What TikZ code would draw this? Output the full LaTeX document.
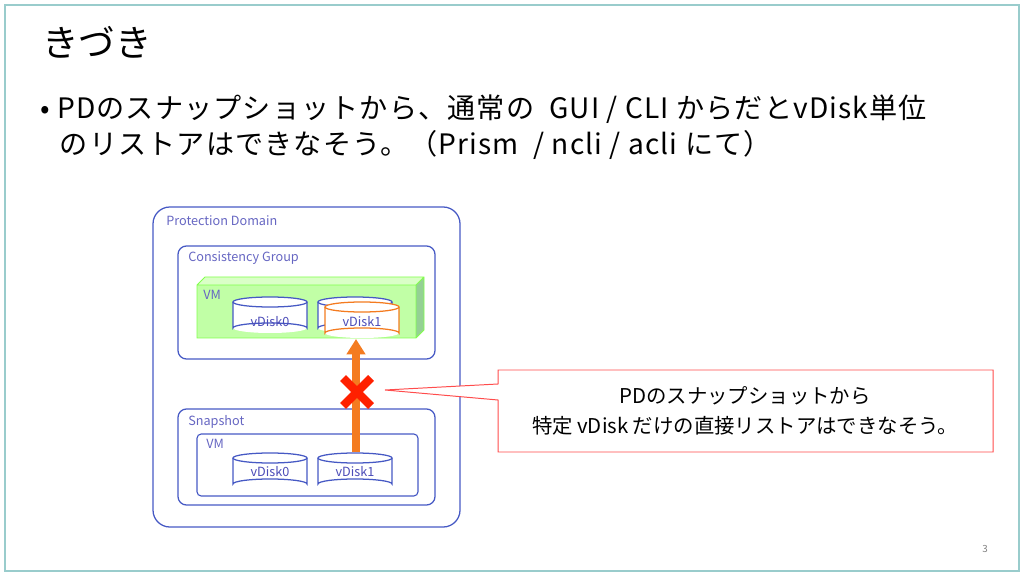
\documentclass[tikz,border=0pt]{standalone}
\usetikzlibrary{arrows.meta}
\usepackage{fontspec}
\setmainfont{Noto Sans CJK JP}
\begin{document}
\begin{tikzpicture}[x=0.025cm,y=-0.025cm,
 bx/.style={draw=blue!55!black!70!white,line width=0.9pt,rounded corners=6pt},
 lbl/.style={anchor=north west,inner sep=0pt,text=blue!60!black!60!white,font=\fontsize{9}{10}\selectfont},
 dlbl/.style={inner sep=0pt,text=blue!60!black!70!white,font=\fontsize{9}{10}\selectfont}]
\definecolor{bl}{HTML}{4659C4}
\definecolor{og}{HTML}{F47B20}
\useasboundingbox (0,0) rectangle (1024,576);
\draw[draw=teal!40,line width=0.8pt] (5,5) rectangle (1019,571);
\node[anchor=west,inner sep=0pt,font=\fontsize{26}{30}\selectfont] (title) at (42,42) {きづき};
\node[anchor=north west,inner sep=0pt,font=\fontsize{20}{25}\selectfont\addfontfeatures{LetterSpace=4},align=left] (body) at (40,95) {• PDのスナップショットから、通常の\ \ GUI / CLI からだとvDisk単位\\\hspace{0.7em}のリストアはできなそう。（Prism\ \ / ncli / acli にて）};
\node[anchor=east,inner sep=0pt,font=\fontsize{7}{8}\selectfont,text=gray] (pg) at (988,549) {3};
\draw[bx,draw=bl,rounded corners=12pt] (153,207) rectangle (460,527);
\node[lbl] (pd) at (166,215) {Protection Domain};
\draw[bx,draw=bl] (178,246) rectangle (435,359);
\node[lbl] (cg) at (188,251) {Consistency Group};
\draw[bx,draw=bl] (178,409) rectangle (435,505);
\node[lbl] (sn) at (188,415) {Snapshot};
\draw[draw=bl,line width=0.8pt,rounded corners=3pt] (197,434) rectangle (418,496);
\node[lbl] (vm2) at (206,439) {VM};
\fill[green!60!lime!35] (197,285) rectangle (416,338);
\fill[green!55!lime!22] (197,285) -- (205,277) -- (424,277) -- (416,285) -- cycle;
\fill[green!40!gray!60] (416,285) -- (424,277) -- (424,330) -- (416,338) -- cycle;
\draw[green!60!lime!70,line width=0.6pt] (197,285) rectangle (416,338) (197,285) -- (205,277) -- (424,277) -- (424,330) -- (416,338) (416,285)--(424,277);
\node[lbl] (vm1) at (203,290) {VM};
\newcommand{\cyl}[5]{%
 \fill[white] (#1,#2) rectangle ++(#3,#4);
 \fill[white] (#1+#3/2,#2+#4) ellipse ({#3/2} and 5);
 \draw[#5,line width=0.9pt] (#1,#2) -- ++(0,#4) arc[start angle=180,end angle=360,x radius=#3/2,y radius=5] -- ++(0,-#4);
 \draw[#5,line width=0.9pt,fill=white] (#1+#3/2,#2) ellipse ({#3/2} and 5);}
\cyl{233}{302}{74}{26}{bl}
\cyl{318}{302}{74}{26}{bl}
\cyl{325}{307}{74}{26}{og}
\node[dlbl] (c0) at (270,322) {vDisk0};
\node[dlbl] (c1) at (362,322) {vDisk1};
\cyl{233}{458}{74}{26}{bl}
\cyl{318}{458}{74}{26}{bl}
\node[dlbl] (s0) at (270,472) {vDisk0};
\node[dlbl] (s1) at (355,472) {vDisk1};
\coordinate (src) at (356,452);
\coordinate (dst) at (356,339);
\draw[og,line width=5pt,-{Triangle[width=13pt,length=11pt]}] (src) -- (dst);
\draw[red!75!orange,line width=6pt] (343,378) -- (371,406) (371,378) -- (343,406);
\draw[draw=red!70!white,fill=white,line width=0.7pt] (498,370) -- (993,370) -- (993,452) -- (498,452) -- (498,400) -- (385,390) -- (498,384) -- cycle;
\node[inner sep=0pt,align=center,font=\fontsize{14.5}{21}\selectfont] (co) at (745,411) {PDのスナップショットから\\特定 vDisk だけの直接リストアはできなそう。};
\end{tikzpicture}
\end{document}
